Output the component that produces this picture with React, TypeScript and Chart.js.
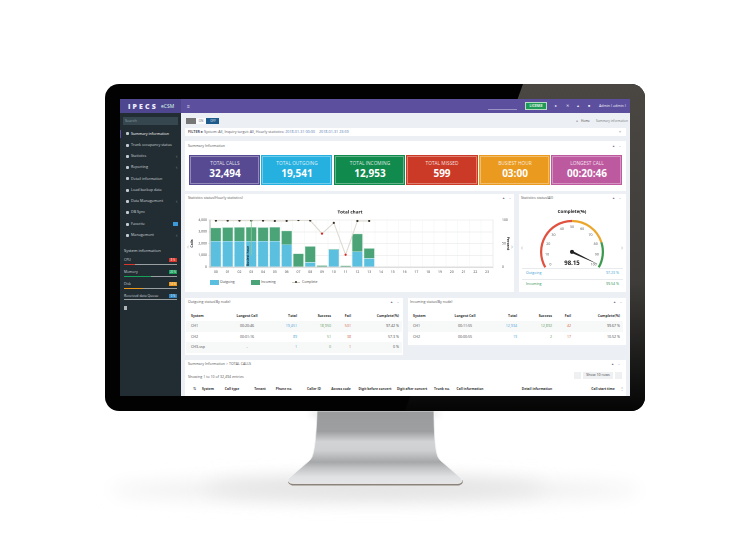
import { useEffect, useRef } from "react";
import { Chart, registerables } from "chart.js";
import type { CSSProperties, ReactNode } from "react";

Chart.register(...registerables);

const hours = ["00", "01", "02", "03", "04", "05", "06", "07", "08", "09", "10", "11", "12", "13", "14", "15", "16", "17", "18", "19", "20", "21", "22", "23"];
const outgoing = [2200, 2200, 2200, 2200, 2200, 2200, 1915, 0, 400, 0, 1485, 0, 1310, 740];
const incoming = [1140, 1180, 1190, 1200, 1180, 1200, 1170, 1140, 1370, 140, 55, 115, 1520, 860];
const complete = [98.6, 98.6, 98.6, 98.6, 98.6, 98, 98.2, 99.9, 99, 71, 94, 26, 98, 98];
const leftTicks = [0, 1000, 2000, 3000, 4000];
const rightTicks = [0, 50, 100];

const gaugeZones = [50, 30, 20];
const gaugeTicks = [0, 10, 20, 30, 40, 50, 60, 70, 80, 90, 100];
const gaugeValue = 98.15;

const cardLabels = ["TOTAL CALLS", "TOTAL OUTGOING", "TOTAL INCOMING", "TOTAL MISSED", "BUSIEST HOUR", "LONGEST CALL"];
const cardValues = ["32,494", "19,541", "12,953", "599", "03:00", "00:20:46"];

const menuLabels = ["Summary information", "Trunk occupancy status", "Statistics", "Reporting", "Detail information", "Load backup data", "Data Management", "DB Sync", "Favorite", "Management"];
const sysLabels = ["CPU", "Memory", "Disk", "Received data Queue"];
const sysPercent = [8, 20, 14, 0];

const tableHead = ["System", "Longest Call", "Total", "Success", "Fail", "Complete(%)"];
const outgoingRows = [
  ["CH1", "00:20:46", "19,451", "18,950", "501", "97.42 %"],
  ["CH2", "00:01:16", "89", "51", "38", "57.3 %"],
  ["CH3-vsp", "-", "1", "0", "1", "0 %"],
];
const incomingRows = [
  ["CH1", "00:11:55", "12,934", "12,892", "42", "99.67 %"],
  ["CH2", "00:00:55", "19", "2", "17", "10.52 %"],
];
const callColumns = ["System", "Call type", "Tenant", "Phone no.", "Caller ID", "Access code", "Digit before convert", "Digit after convert", "Trunk no.", "Call information", "Detail information", "Call start time"];

const cardColors = ["#574a93", "#25b0e0", "#118a4e", "#cb3a26", "#ea9a1f", "#bd5a9f"];
const cardX = [190, 262, 335, 407, 480, 552];
const cardW = [69, 69, 69, 70, 69, 69];
const menuY = [133.7, 145, 156.3, 167.3, 178.7, 190, 201, 212.3, 224, 235];
const sysY = [260.3, 272, 284, 295.7];
const sysColors = ["#d9362b", "#16a05a", "#e9981c", "#2f86c0"];
const callColumnX = [208, 232, 260, 284, 314, 341, 375, 412, 442, 470, 537, 603];
const font = '"Open Sans", sans-serif';

// small text is laid out 3x bigger and scaled back down so the browser keeps its real size
const K = 3;

function T(props: { x: number; y: number; s?: number; c?: string; b?: boolean; a?: "l" | "c" | "r"; children: ReactNode }) {
  const a = props.a || "l";
  const shift = a === "l" ? "0" : a === "c" ? "-50%" : "-100%";
  const style: CSSProperties = {
    position: "absolute",
    left: props.x,
    top: props.y,
    transformOrigin: "0 0",
    transform: `scale(${1 / K}) translate(${shift}, -50%)`,
    fontSize: (props.s || 3.6) * K,
    color: props.c || "#444",
    fontWeight: props.b ? 700 : 400,
    whiteSpace: "nowrap",
    lineHeight: 1,
  };
  return <div style={style}>{props.children}</div>;
}

function Box(props: { x: number; y: number; w: number; h: number; bg: string; extra?: CSSProperties }) {
  return <div style={{ position: "absolute", left: props.x, top: props.y, width: props.w, height: props.h, background: props.bg, ...props.extra }} />;
}

function PanelHead(props: { x: number; y: number; right: number; title: string }) {
  return (
    <>
      <T x={props.x} y={props.y} s={3.6} c="#555">{props.title}</T>
      <T x={props.right - 9} y={props.y} s={3.2} c="#778">▲</T>
      <T x={props.right - 2} y={props.y} s={3.6} c="#778">–</T>
    </>
  );
}

function StatusTable(props: { rows: string[][]; x: number[]; y: number }) {
  const align: ("l" | "c" | "r")[] = ["l", "c", "r", "r", "r", "r"];
  const tint = ["#444", "#444", "#4a9fd8", "#5c985c", "#d25f40", "#444"];
  return (
    <>
      {tableHead.map((h, i) => (
        <T key={h} x={props.x[i]} y={props.y} a={align[i]} s={3.5} b c="#333">{h}</T>
      ))}
      {props.rows.map((row, r) => (
        <div key={row[0]}>
          {r % 2 === 0 && <Box x={props.x[0] - 5} y={props.y + 5 + r * 10.5} w={props.x[5] - props.x[0] + 8} h={10.5} bg="#f7f8f8" />}
          {row.map((v, i) => (
            <T key={i} x={props.x[i]} y={props.y + 10.3 + r * 10.5} a={align[i]} c={tint[i]}>{v}</T>
          ))}
        </div>
      ))}
    </>
  );
}

function HourlyChart() {
  const canvasRef = useRef<HTMLCanvasElement | null>(null);

  useEffect(() => {
    if (canvasRef.current == null) return;

    const busyMarker = {
      id: "busyMarker",
      afterDatasetsDraw(chart: any) {
        const { ctx, scales, chartArea } = chart;
        const x = scales.x.getPixelForValue(3);
        ctx.save();
        ctx.strokeStyle = "#8fcb96";
        ctx.lineWidth = 0.8;
        ctx.beginPath();
        ctx.moveTo(x, chartArea.top);
        ctx.lineTo(x, scales.y.getPixelForValue(1000));
        ctx.stroke();
        ctx.translate(x - 3, chartArea.bottom - 1);
        ctx.rotate(-Math.PI / 2);
        ctx.fillStyle = "#1d2b33";
        ctx.font = `bold 3.2px ${font}`;
        ctx.textBaseline = "middle";
        ctx.fillText("Busiest hour", 0, 0);
        ctx.restore();
      },
    };

    const tickFont = { family: font, size: 3.4 };
    const axisFont = { family: font, size: 3.5, weight: "bold" };

    const chartInstance = new Chart(canvasRef.current, {
      type: "bar",
      data: {
        labels: hours,
        datasets: [
          {
            type: "line",
            label: "Complete",
            data: complete,
            yAxisID: "y2",
            borderColor: "#dcd8cf",
            borderWidth: 1,
            pointRadius: 1.1,
            pointBorderWidth: 0,
            pointBackgroundColor: (c: any) => (c.raw < 90 ? "#d8231f" : "#3a3328"),
            tension: 0,
            order: 0,
          },
          {
            label: "Outgoing",
            data: outgoing,
            backgroundColor: "#5bbfdf",
            borderColor: "#a9dff0",
            borderWidth: 0.4,
            barPercentage: 0.9,
            categoryPercentage: 1,
            order: 1,
          },
          {
            label: "Incoming",
            data: incoming,
            backgroundColor: "#4aa478",
            borderColor: "#97cfb3",
            borderWidth: 0.4,
            barPercentage: 0.9,
            categoryPercentage: 1,
            order: 1,
          },
        ],
      },
      options: {
        animation: false,
        responsive: false,
        devicePixelRatio: 2,
        layout: { padding: 0 },
        plugins: {
          legend: { display: false },
          tooltip: { enabled: false },
          title: {
            display: true,
            text: "Total chart",
            color: "#222",
            font: { family: font, size: 4.6, weight: "bold" },
            padding: { top: 4.2, bottom: 5.3 },
          },
        },
        scales: {
          x: {
            stacked: true,
            afterFit: (s: any) => { s.height = 10; },
            grid: { color: "#f4f5f5", lineWidth: 0.6, tickLength: 2 },
            border: { color: "#dedede", width: 1.5 },
            ticks: { color: "#444", font: tickFont, padding: 1, autoSkip: false, maxRotation: 0 },
          },
          y: {
            stacked: true,
            min: 0,
            max: 4000,
            afterFit: (s: any) => { s.width = 20; },
            afterBuildTicks: (s: any) => { s.ticks = leftTicks.map((value) => ({ value })); },
            grid: { color: "#ededed", lineWidth: 0.8, tickLength: 2 },
            border: { color: "#888", width: 0.6 },
            title: { display: true, text: "Calls", color: "#222", padding: 0, font: axisFont },
            ticks: { color: "#444", font: tickFont, padding: 1 },
          },
          y2: {
            position: "right",
            min: 0,
            max: 100,
            afterFit: (s: any) => { s.width = 17; },
            afterBuildTicks: (s: any) => { s.ticks = rightTicks.map((value) => ({ value })); },
            grid: { display: false },
            border: { color: "#e4e4e4", width: 0.6 },
            title: { display: true, text: "Percent", color: "#222", padding: 0, font: axisFont },
            ticks: { color: "#444", font: tickFont, padding: 1 },
          },
        },
      },
      plugins: [busyMarker],
    } as any);

    return () => {
      chartInstance.destroy();
    };
  }, []);

  return <canvas ref={canvasRef} width={320} height={72} style={{ position: "absolute", left: 190, top: 205, width: 320, height: 72 }} />;
}

function GaugeChart() {
  const canvasRef = useRef<HTMLCanvasElement | null>(null);

  useEffect(() => {
    if (canvasRef.current == null) return;

    const angleOf = (v: number) => ((150 + (240 * v) / 100) * Math.PI) / 180;

    const gaugeMarks = {
      id: "gaugeMarks",
      afterDatasetsDraw(chart: any) {
        const { ctx } = chart;
        const arc = chart.getDatasetMeta(0).data[0];
        const { x, y, outerRadius } = arc;
        ctx.save();
        ctx.fillStyle = "#555";
        ctx.font = `3.6px ${font}`;
        ctx.textAlign = "center";
        ctx.textBaseline = "middle";
        gaugeTicks.forEach((t) => {
          const a = angleOf(t);
          ctx.fillText(String(t), x + Math.cos(a) * outerRadius * 0.78, y + Math.sin(a) * outerRadius * 0.78);
        });
        const a = angleOf(gaugeValue);
        const tipX = x + Math.cos(a) * outerRadius * 0.91;
        const tipY = y + Math.sin(a) * outerRadius * 0.91;
        ctx.fillStyle = "#222";
        ctx.beginPath();
        ctx.moveTo(x - Math.sin(a) * 1.1, y + Math.cos(a) * 1.1);
        ctx.lineTo(tipX, tipY);
        ctx.lineTo(x + Math.sin(a) * 1.1, y - Math.cos(a) * 1.1);
        ctx.closePath();
        ctx.fill();
        ctx.beginPath();
        ctx.arc(x, y, 2, 0, Math.PI * 2);
        ctx.fill();
        ctx.font = `bold 6px ${font}`;
        ctx.fillText(String(gaugeValue), x, y + 11.5);
        ctx.restore();
      },
    };

    const chartInstance = new Chart(canvasRef.current, {
      type: "doughnut",
      data: {
        labels: ["Low", "Middle", "High"],
        datasets: [
          {
            data: gaugeZones,
            backgroundColor: ["#e0513f", "#eaa62c", "#3b9a4d"],
            borderWidth: 0,
          },
        ],
      },
      options: {
        animation: false,
        responsive: false,
        devicePixelRatio: 2,
        rotation: -120,
        circumference: 240,
        cutout: "93%",
        layout: { padding: { left: 14, right: 14 } },
        plugins: {
          legend: { display: false },
          tooltip: { enabled: false },
          title: {
            display: true,
            text: "Complete(%)",
            color: "#222",
            font: { family: font, size: 4.5, weight: "bold" },
            padding: { top: 3.9, bottom: 5.4 },
          },
        },
      },
      plugins: [gaugeMarks],
    } as any);

    return () => {
      chartInstance.destroy();
    };
  }, []);

  return <canvas ref={canvasRef} width={92} height={63} style={{ position: "absolute", left: 526.3, top: 205, width: 92, height: 63 }} />;
}

function Stand() {
  return (
    <svg width={750} height={550} style={{ position: "absolute", left: 0, top: 0 }}>
      <defs>
        <linearGradient id="neck" gradientUnits="userSpaceOnUse" x1="0" y1="411" x2="0" y2="484">
          <stop offset="0" stopColor="#9a9b9d" />
          <stop offset="0.28" stopColor="#9e9fa1" />
          <stop offset="0.42" stopColor="#d2d3d5" />
          <stop offset="0.54" stopColor="#cfd0d2" />
          <stop offset="0.7" stopColor="#a6a7a9" />
          <stop offset="0.78" stopColor="#c2c3c5" />
          <stop offset="0.9" stopColor="#e0e1e3" />
          <stop offset="1" stopColor="#e5e6e8" />
        </linearGradient>
        <filter id="soft" x="-30%" y="-150%" width="160%" height="400%"><feGaussianBlur stdDeviation="9" /></filter>
        <filter id="soft2" x="-30%" y="-150%" width="160%" height="400%"><feGaussianBlur stdDeviation="3" /></filter>
      </defs>
      <ellipse cx={375} cy={490} rx={265} ry={11} fill="#efefef" filter="url(#soft)" />
      <ellipse cx={375} cy={488} rx={170} ry={10} fill="#e2e2e2" filter="url(#soft)" />
      <ellipse cx={375} cy={414} rx={66} ry={4} fill="#dddddd" filter="url(#soft2)" />
      <path d="M288,480 L463,480 Q463.5,484 459,485.5 L292,485.5 Q287.5,484 288,480 Z" fill="#8c837c" />
      <path
        d="M317,411 C316.5,430 315,450 312,457 Q311,459 309,461 L289,478 Q287,480 288.5,481.5 Q289.5,483.5 293,483.5 L458,483.5 Q461,483.5 462,481.5 Q463,480 461,478 L441,461 Q439,459 438,457 C435,450 434,430 434,411 Z"
        fill="url(#neck)"
        stroke="#f6f6f6"
        strokeWidth={0.7}
      />
    </svg>
  );
}

export default function App() {
  const outX = [191, 247, 297, 331, 351, 399];
  const inX = [413, 465, 517, 552, 571, 620];

  return (
    <div style={{ position: "fixed", left: 0, top: 0, width: 750, height: 550, background: "#fff", overflow: "hidden", fontFamily: font }}>
      <Stand />

      {/* bezel */}
      <Box x={105} y={84} w={540} h={327} bg="#020202" extra={{ borderRadius: 14 }} />
      <Box x={105} y={84} w={540} h={327} bg="linear-gradient(to bottom, #4a4743 0%, #3f3d39 60%, #1a1a19 85%, #050505 100%)"
        extra={{ borderRadius: 14, clipPath: "polygon(418px 0, 540px 0, 540px 327px, 300px 327px)" }} />

      {/* screen */}
      <div style={{ position: "absolute", left: 0, top: 0, width: 750, height: 550, filter: "blur(0.25px)" }}>
        <Box x={120} y={99} w={510} h={296.5} bg="#ecf0f5" />
        <Box x={120} y={99} w={510} h={13.5} bg="#5b4f9e" />
        <Box x={120} y={99} w={61} h={13.5} bg="#4f4690" />
        <Box x={120} y={112.5} w={61} h={283} bg="#222d33" />

        <T x={127.7} y={106} s={7} b c="#eef"><span style={{ letterSpacing: "0.3em", fontWeight: 800 }}>IPECS</span></T>
        <T x={160.7} y={106.3} s={5} c="#dfe">eCSM</T>
        <T x={187} y={105.7} s={5} c="#dde">≡</T>
        <Box x={488} y={109} w={29} h={0.6} bg="#9a94c6" />
        <Box x={525} y={102} w={21.5} h={8} bg="#1f9a57" extra={{ border: "0.6px solid #b7dcc3", boxSizing: "border-box" }} />
        <T x={535.7} y={106} s={3.2} b c="#eaf7ee" a="c">LICENSE</T>
        {["▸", "✕", "▲", "■"].map((g, i) => (
          <T key={g} x={556 + i * 11} y={106} s={3.6} c="#f0f0f8" a="c">{g}</T>
        ))}
        <T x={599} y={106} s={3.65} c="#eeeef8">Admin ( admin )</T>

        {/* sidebar */}
        <Box x={123} y={117} w={55} h={8} bg="#37474f" />
        <T x={125} y={121} s={3.7} c="#8fa2a9">Search</T>
        <Box x={120} y={129.5} w={1.2} h={8.5} bg="#5b4f9e" />
        {menuLabels.map((m, i) => (
          <div key={m}>
            <Box x={125.5} y={menuY[i] - 1.5} w={3} h={3} bg="#c3cbce" extra={{ borderRadius: 1 }} />
            <T x={131} y={menuY[i]} s={3.7} c={i === 0 ? "#ffffff" : "#ccd4d8"}>{m}</T>
            {[2, 3, 6, 9].includes(i) && <T x={175.5} y={menuY[i]} s={4.6} c="#8a989d">‹</T>}
          </div>
        ))}
        <Box x={173} y={222} w={4.5} h={4} bg="#3c9ad8" />
        <T x={124} y={250.7} s={4} c="#d4dbde">System information</T>
        {sysLabels.map((s, i) => (
          <div key={s}>
            <T x={124} y={sysY[i]} s={3.5} c="#ccd4d8">{s}</T>
            <Box x={169} y={sysY[i] - 2} w={8.3} h={4} bg={sysColors[i]} />
            <T x={173.1} y={sysY[i]} s={2.6} c="#fff" a="c">{sysPercent[i]} %</T>
            <Box x={124} y={sysY[i] + 3.5} w={53.3} h={1.3} bg="#9aa0a2" />
            <Box x={124} y={sysY[i] + 3.5} w={(53.3 * sysPercent[i] * 1.0) / 40} h={1.3} bg={sysColors[i]} />
          </div>
        ))}
        <Box x={124} y={306} w={2.5} h={4} bg="#aeb6ba" />

        {/* toolbar */}
        <Box x={185.7} y={117.7} w={10} h={6.5} bg="#777" />
        <Box x={196} y={117.7} w={10} h={6.5} bg="#fafbfc" />
        <T x={201} y={121} s={3} c="#667" a="c">ON</T>
        <Box x={206} y={117.7} w={13} h={6.5} bg="#1c5b8c" />
        <T x={212.5} y={121} s={3} c="#e5eef6" a="c">OFF</T>
        <T x={577} y={120.7} s={3.4} c="#333" a="c">⌂</T>
        <T x={580.7} y={120.7} s={3.1} c="#444">Home</T>
        <T x={595.6} y={120.7} s={3.1} c="#777">Summary information</T>

        <Box x={185} y={127.7} w={441} h={8.5} bg="#fff" />
        <T x={188} y={132} s={3.7} c="#556">
          <b>FILTER ▸</b> System: All, Inquiry target: All, Hourly statistics: <span style={{ color: "#557ab0" }}>2018-01-31 00:00 ~ 2018-01-31 23:59</span>
        </T>
        <T x={618} y={132} s={3.6} c="#778">＋</T>

        {/* summary cards */}
        <Box x={185} y={141} w={441} h={49.5} bg="#fff" />
        <PanelHead x={188} y={145.5} right={621} title="Summary Information" />
        {cardLabels.map((label, i) => (
          <div key={label}>
            <Box x={cardX[i]} y={155.8} w={cardW[i]} h={28} bg={cardColors[i]} extra={{ border: "0.6px solid rgba(255,255,255,0.35)", boxSizing: "border-box", outline: `0.5px solid ${cardColors[i]}` }} />
            <T x={cardX[i] + cardW[i] / 2} y={162.8} s={4.8} c="rgba(255,255,255,0.85)" a="c">{label}</T>
            <T x={cardX[i] + cardW[i] / 2} y={173} s={10} b c="#fff" a="c">{cardValues[i]}</T>
          </div>
        ))}

        {/* hourly statistics */}
        <Box x={185} y={194} w={329} h={98} bg="#fff" />
        <PanelHead x={188} y={198} right={511} title="Statistics status(Hourly statistics)" />
        <HourlyChart />
        <T x={188.3} y={246} s={8} c="#bbb" a="c">‹</T>
        <T x={511.7} y={246} s={8} c="#bbb" a="c">›</T>
        <Box x={210} y={279.5} w={9} h={5} bg="#5bbfdf" />
        <T x={220} y={282} s={3.4}>Outgoing</T>
        <Box x={251} y={279.5} w={9} h={5} bg="#4aa478" />
        <T x={261} y={282} s={3.4}>Incoming</T>
        <Box x={292} y={281.8} w={8} h={0.6} bg="#cfcac0" />
        <Box x={295} y={281} w={2} h={2} bg="#3a3328" extra={{ borderRadius: 1 }} />
        <T x={302} y={282} s={3.4}>Complete</T>

        {/* gauge */}
        <Box x={519} y={193.5} w={107} h={98.5} bg="#fff" />
        <PanelHead x={521} y={198} right={621} title="Statistics status(All)" />
        <GaugeChart />
        <T x={521.7} y={247} s={8} c="#bbb" a="c">‹</T>
        <T x={622} y={247} s={8} c="#bbb" a="c">›</T>
        <Box x={522} y={268} w={101} h={0.5} bg="#e8ebee" />
        <T x={526} y={273} s={3.6} c="#3b9dd2">Outgoing</T>
        <T x={619} y={273} s={3.6} c="#3b9dd2" a="r">97.23 %</T>
        <Box x={522} y={279} w={101} h={0.5} bg="#e8ebee" />
        <T x={526} y={284} s={3.6} c="#278f50">Incoming</T>
        <T x={619} y={284} s={3.6} c="#278f50" a="r">99.54 %</T>

        {/* node tables */}
        <Box x={185} y={298} w={218} h={57} bg="#fff" />
        <PanelHead x={188} y={302} right={399} title="Outgoing status(By node)" />
        <StatusTable rows={outgoingRows} x={outX} y={316} />
        <Box x={408} y={298} w={217.5} h={47} bg="#fff" />
        <PanelHead x={410} y={302} right={622} title="Incoming status(By node)" />
        <StatusTable rows={incomingRows} x={inX} y={316} />

        {/* calls table */}
        <Box x={185} y={360} w={440.5} h={35.5} bg="#fff" />
        <PanelHead x={188} y={364} right={620} title="Summary Information > TOTAL CALLS" />
        <T x={188} y={376.7} s={3.6} c="#555">Showing 1 to 10 of 32,494 entries</T>
        <Box x={573.5} y={372} w={7} h={6.5} bg="#eef0f2" />
        <Box x={583} y={372} w={30} h={6.5} bg="#eef0f2" />
        <T x={598} y={375.2} s={3.6} a="c">Show 10 rows</T>
        <Box x={614.5} y={372} w={7} h={6.5} bg="#eef0f2" />
        <T x={194} y={388.7} s={3.6} c="#555" a="c">⇅</T>
        {callColumns.map((c, i) => (
          <T key={c} x={callColumnX[i]} y={388.7} s={3.3} b c="#333" a="c">{c}</T>
        ))}
        <T x={622} y={388.7} s={3.6} c="#999" a="c">⋮</T>
      </div>
    </div>
  );
}
